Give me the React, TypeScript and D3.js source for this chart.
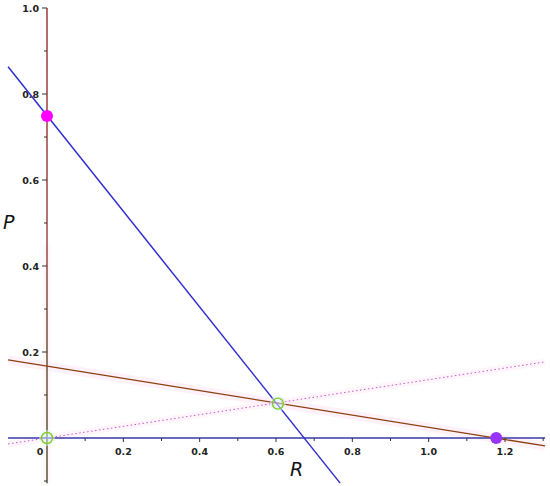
import React from "react";
import * as d3 from "d3";

const xTicks = [0.2, 0.4, 0.6, 0.8, 1.0, 1.2];
const xTickLabels = ["0.2", "0.4", "0.6", "0.8", "1.0", "1.2"];
const xMinorTicks = [0.1, 0.3, 0.5, 0.7, 0.9, 1.1, 1.3];
const yTicks = [0.2, 0.4, 0.6, 0.8, 1.0];
const yTickLabels = ["0.2", "0.4", "0.6", "0.8", "1.0"];
const yMinorTicks = [0.1, 0.3, 0.5, 0.7, 0.9];

// lines as [R, P] endpoints
const blueLine = [[-0.102, 0.8635], [0.768, -0.105]];
const brownLine = [[-0.102, 0.1815], [1.305, -0.0185]];
const dottedLine = [[-0.102, -0.0138], [1.305, 0.177]];
const filledPoints = [
  { r: 0, p: 0.749, color: "#ff00ff" },
  { r: 1.177, p: 0, color: "#9933ff" },
];
const openPoints = [
  { r: 0, p: 0 },
  { r: 0.605, p: 0.08 },
];

export default function App() {
  const x = d3.scaleLinear().domain([0, 1.2]).range([47, 505]);
  const y = d3.scaleLinear().domain([0, 1.0]).range([438, 8]);
  const line = d3
    .line<number[]>()
    .x((d) => x(d[0]))
    .y((d) => y(d[1]));
  const xMin = -0.102, xMax = 1.305, yMin = -0.105;
  const font = "DejaVu Sans, Verdana, sans-serif";
  return (
    <svg
      width={550}
      height={486}
      style={{ position: "absolute", left: 0, top: 0, display: "block", background: "#fff" }}
    >
      <defs>
        <linearGradient id="yaxisGrad" gradientUnits="userSpaceOnUse" x1={0} y1={y(1.0)} x2={0} y2={y(yMin)}>
          <stop offset="0" stopColor="#8b1a1a" />
          <stop offset="0.5" stopColor="#8b2a2a" />
          <stop offset="0.7" stopColor="#5a3a1a" />
          <stop offset="1" stopColor="#3a3a1a" />
        </linearGradient>
      </defs>
      {/* pink halos */}
      <path d={line(brownLine as any) || ""} stroke="#ffd8ee" strokeOpacity={0.35} strokeWidth={9} fill="none" />
      <path d={line(dottedLine as any) || ""} stroke="#ffe0f2" strokeOpacity={0.3} strokeWidth={7} fill="none" />
      <line x1={x(0)} x2={x(0)} y1={y(0.45)} y2={y(yMin)} stroke="#fff0f6" strokeOpacity={0.5} strokeWidth={8} />

      {/* y axis */}
      <line x1={x(0)} x2={x(0)} y1={y(1.0)} y2={y(yMin)} stroke="url(#yaxisGrad)" strokeWidth={1.3} />
      {yTicks.map((t, i) => (
        <g key={"yt" + i}>
          <line x1={x(0) - 5} x2={x(0)} y1={y(t)} y2={y(t)} stroke="#333" strokeWidth={1} />
          <text x={x(0) - 8} y={y(t) + 3.5} textAnchor="end" fontFamily={font} fontSize={9.5} fontWeight="bold" fill="#222">
            {yTickLabels[i]}
          </text>
        </g>
      ))}
      {yMinorTicks.map((t, i) => (
        <line key={"ym" + i} x1={x(0) - 3} x2={x(0)} y1={y(t)} y2={y(t)} stroke="#333" strokeWidth={1} />
      ))}
      <line x1={x(0) - 3} x2={x(0)} y1={y(-0.1)} y2={y(-0.1)} stroke="#333" strokeWidth={1} />

      {/* x axis (blue line P = 0) */}
      <line x1={x(xMin)} x2={x(xMax)} y1={y(0)} y2={y(0)} stroke="#3a3aa8" strokeWidth={1.6} />
      {xTicks.map((t, i) => (
        <g key={"xt" + i}>
          <line x1={x(t)} x2={x(t)} y1={y(0)} y2={y(0) + 4} stroke="#333" strokeWidth={1} />
          <text x={x(t)} y={y(0) + 17} textAnchor="middle" fontFamily={font} fontSize={9.5} fontWeight="bold" fill="#222">
            {xTickLabels[i]}
          </text>
        </g>
      ))}
      {xMinorTicks.map((t, i) => (
        <line key={"xm" + i} x1={x(t)} x2={x(t)} y1={y(0)} y2={y(0) + 3} stroke="#333" strokeWidth={1} />
      ))}
      <text x={x(0) - 7} y={y(0) + 17} textAnchor="middle" fontFamily={font} fontSize={9.5} fontWeight="bold" fill="#222">
        0
      </text>

      {/* lines */}
      <path d={line(dottedLine as any) || ""} stroke="#cc55cc" strokeWidth={1} strokeDasharray="1.5,2.5" fill="none" />
      <path d={line(brownLine as any) || ""} stroke="#8b4010" strokeWidth={1.3} fill="none" />
      <path d={line(blueLine as any) || ""} stroke="#2f2fd0" strokeWidth={1.5} fill="none" />

      {/* points */}
      {openPoints.map((pt, i) => (
        <g key={"op" + i}>
          <circle cx={x(pt.r)} cy={y(pt.p)} r={8} fill="#d8fafa" fillOpacity={0.5} />
          <circle cx={x(pt.r)} cy={y(pt.p)} r={5.5} fill="none" stroke="#88c822" strokeWidth={1.4} />
        </g>
      ))}
      {filledPoints.map((pt, i) => (
        <circle key={"fp" + i} cx={x(pt.r)} cy={y(pt.p)} r={6} fill={pt.color} />
      ))}

      {/* axis labels */}
      <text x={3} y={229} fontFamily={font} fontSize={19} fontStyle="italic" fill="#111">P</text>
      <text x={290} y={476} fontFamily={font} fontSize={19} fontStyle="italic" fill="#111">R</text>
    </svg>
  );
}
